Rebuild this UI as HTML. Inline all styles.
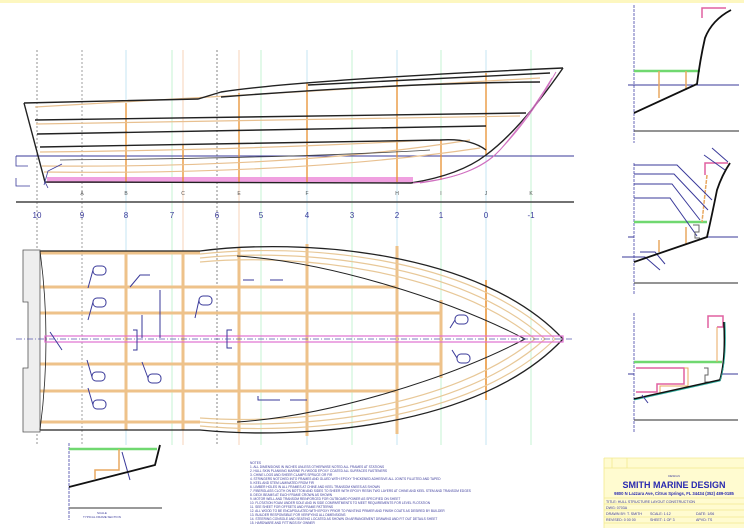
<!DOCTYPE html>
<html><head><meta charset="utf-8"><style>
html,body{margin:0;padding:0;background:#fff;}
svg{display:block;}
text{font-family:"Liberation Sans",sans-serif;}
</style></head><body>
<svg width="744" height="528" viewBox="0 0 744 528" xmlns="http://www.w3.org/2000/svg">
<rect x="0" y="0" width="744" height="528" fill="#fff"/>
<rect x="0" y="0" width="744" height="3" fill="#fdf7c0"/>
<g stroke-width="0.8" fill="none">
<line x1="37" y1="50" x2="37" y2="445" stroke="#777" stroke-dasharray="2,2"/>
<line x1="82" y1="50" x2="82" y2="445" stroke="#888" stroke-dasharray="2,2"/>
<line x1="126" y1="50" x2="126" y2="445" stroke="#b8e0f0"/>
<line x1="172" y1="50" x2="172" y2="445" stroke="#b8f0c8"/>
<line x1="183" y1="50" x2="183" y2="445" stroke="#f5c8a8"/>
<line x1="217" y1="50" x2="217" y2="445" stroke="#666" stroke-dasharray="2,2"/>
<line x1="239" y1="50" x2="239" y2="445" stroke="#f5c8a8"/>
<line x1="261" y1="50" x2="261" y2="445" stroke="#b8f0c8"/>
<line x1="307" y1="50" x2="307" y2="445" stroke="#b8e0f0"/>
<line x1="352" y1="50" x2="352" y2="445" stroke="#b8f0c8"/>
<line x1="397" y1="50" x2="397" y2="445" stroke="#b8e0f0"/>
<line x1="441" y1="50" x2="441" y2="445" stroke="#b8f0c8"/>
<line x1="486" y1="50" x2="486" y2="445" stroke="#b8e0f0"/>
<line x1="531" y1="50" x2="531" y2="445" stroke="#b8f0c8"/>
</g>
<line x1="16" y1="156" x2="574" y2="156" stroke="#3a3a9a" stroke-width="1"/>
<line x1="16" y1="202" x2="574" y2="202" stroke="#444" stroke-width="1.5"/>
<path d="M16 156 H28 M16 156 V166 H28 M16 178 V186 H30" stroke="#3a3a9a" fill="none" stroke-width="0.8"/>
<rect x="47" y="177" width="366" height="6" fill="#f0a0e0"/>
<g fill="none" stroke="#e89030" stroke-width="1.3">
<line x1="126" y1="103" x2="126" y2="182"/><line x1="183" y1="145" x2="183" y2="182"/>
<line x1="239" y1="93" x2="239" y2="182"/><line x1="307" y1="83" x2="307" y2="182"/>
<line x1="397" y1="78" x2="397" y2="182"/><line x1="441" y1="140" x2="441" y2="180"/>
<line x1="486" y1="73" x2="486" y2="155"/>
</g>
<g fill="none" stroke="#e8c090" stroke-width="1.2">
<path d="M35 107 L540 78"/><path d="M36 124 L520 116"/><path d="M40 152 Q250 150 430 140"/>
<path d="M42 166 Q300 168 470 140"/><path d="M44 172 Q300 175 480 148"/>
</g>
<g fill="none" stroke="#222" stroke-width="1.4">
<path d="M24 103 L198 99 L221 92 Q300 80 563 68"/>
<path d="M24 103 L45 182 L411 183 Q460 175 486 155 Q520 130 563 68"/>
<path d="M35 120 L526 113"/><path d="M37 134 L486 126"/>
<path d="M40 147 Q300 142 440 140 Q470 138 486 150"/>
<path d="M221 97 Q400 83 540 82"/><path d="M308 85 L550 73"/>
<path d="M60 160 Q300 158 430 150" stroke="#444" stroke-width="0.8"/>
</g>
<g fill="none" stroke="#d070c0" stroke-width="0.9">
<path d="M413 183 Q470 178 495 155 Q530 120 556 72"/>
<path d="M420 183 Q475 176 500 150 Q530 115 552 78"/>
</g>
<path d="M45 182 L48 188 M44 185 L48 171 L62 164" stroke="#3a3a9a" fill="none" stroke-width="0.8"/>
<g font-size="5" fill="#555" text-anchor="middle">
<text x="82" y="195">A</text><text x="126" y="195">B</text><text x="183" y="195">C</text><text x="239" y="195">E</text>
<text x="307" y="195">F</text><text x="397" y="195">H</text><text x="441" y="195">I</text><text x="486" y="195">J</text><text x="531" y="195">K</text>
</g>
<g font-size="8" fill="#3a3a9a" text-anchor="middle">
<text x="37" y="218">10</text><text x="82" y="218">9</text><text x="126" y="218">8</text><text x="172" y="218">7</text>
<text x="217" y="218">6</text><text x="261" y="218">5</text><text x="307" y="218">4</text><text x="352" y="218">3</text>
<text x="397" y="218">2</text><text x="441" y="218">1</text><text x="486" y="218">0</text><text x="531" y="218">-1</text>
</g>
<g fill="none" stroke="#eec28a" stroke-width="3">
<line x1="40" y1="253" x2="200" y2="253"/><line x1="40" y1="287" x2="397" y2="287"/>
<line x1="40" y1="313" x2="441" y2="313"/><line x1="40" y1="364" x2="441" y2="364"/>
<line x1="40" y1="391" x2="397" y2="391"/><line x1="40" y1="422" x2="200" y2="422"/>
<line x1="126" y1="251" x2="126" y2="430"/><line x1="183" y1="251" x2="183" y2="430"/>
<line x1="239" y1="248" x2="239" y2="432"/><line x1="307" y1="244" x2="307" y2="436"/>
<line x1="397" y1="246" x2="397" y2="434"/><line x1="441" y1="300" x2="441" y2="378"/>
<line x1="486" y1="280" x2="486" y2="400" stroke="#e89030" stroke-width="1.5"/>
</g>
<g fill="none" stroke="#e8c898" stroke-width="1.2">
<path d="M200 254 C300 243 470 255 555 339 C470 423 300 435 200 426"/>
<path d="M200 258 C300 248 460 262 545 339 C460 416 300 430 200 422"/>
<path d="M200 262 C300 253 450 270 535 339 C450 408 300 425 200 418"/>
</g>
<g fill="none" stroke="#222" stroke-width="1.3">
<path d="M40 251 L200 251 C300 238 480 250 563 339 C480 428 300 440 200 430 L40 430"/>
<path d="M237 256 C330 262 450 300 525 339 C450 378 330 416 237 422" stroke-width="1"/>
<path d="M23 250 H40 V432 H23 V368 H28 V302 H23 Z" stroke="#555" fill="#eee" stroke-width="0.8"/>
<path d="M40 251 Q52 339 40 430" stroke-width="0.8"/>
</g>
<line x1="16" y1="339" x2="574" y2="339" stroke="#5a5ab0" stroke-width="0.8" stroke-dasharray="6,2,1,2"/>
<rect x="45" y="336" width="518" height="6" fill="none" stroke="#e070d0" stroke-width="1.2"/>
<g fill="none" stroke="#3a3a9a" stroke-width="1">
<rect x="93" y="266" width="13" height="9" rx="4"/><path d="M93 270 L88 288"/>
<rect x="93" y="298" width="13" height="9" rx="4"/><path d="M93 302 L88 320"/>
<rect x="199" y="296" width="13" height="9" rx="4"/><path d="M199 300 L195 318"/>
<rect x="92" y="372" width="13" height="9" rx="4"/><path d="M92 377 L87 360"/>
<rect x="148" y="374" width="13" height="9" rx="4"/><path d="M148 378 L142 362"/>
<rect x="93" y="400" width="13" height="9" rx="4"/><path d="M93 405 L88 388"/>
<rect x="455" y="315" width="13" height="9" rx="4"/><path d="M455 320 L450 328"/>
<rect x="457" y="354" width="13" height="9" rx="4"/><path d="M457 358 L452 350"/>
<path d="M130 287 L140 275 H150"/><path d="M160 290 V338 M142 315 V338"/>
<path d="M133 330 H137 V350 H133"/><path d="M232 330 H227 V348 H232"/>
<path d="M243 280 H254 M270 280 H283"/><path d="M258 396 V400 H280 M290 400 H307"/>
<path d="M50 332 L62 350"/>
</g>
<g fill="none" stroke-width="1">
<line x1="634" y1="5" x2="634" y2="143" stroke="#6a6ab8" stroke-dasharray="3,1"/>
<line x1="628" y1="85" x2="739" y2="85" stroke="#3a3a9a"/>
<line x1="634" y1="131" x2="739" y2="131" stroke="#555" stroke-width="1.3"/>
<line x1="634" y1="71" x2="700" y2="71" stroke="#70d870" stroke-width="2.5"/>
<line x1="659" y1="71" x2="659" y2="98" stroke="#e8a860" stroke-width="1.5"/>
<line x1="686" y1="71" x2="686" y2="90" stroke="#e8a860" stroke-width="1.5"/>
<path d="M702 18 V8 H726" stroke="#e060a0" stroke-width="1.5"/>
<path d="M634 113 L697 84 Q700 60 705 38 Q712 20 731 10" stroke="#111" stroke-width="1.8"/>
<line x1="634" y1="163" x2="634" y2="295" stroke="#6a6ab8" stroke-dasharray="3,1"/>
<line x1="707" y1="237" x2="738" y2="237" stroke="#3a3a9a"/>
<line x1="628" y1="237" x2="634" y2="237" stroke="#3a3a9a"/>
<line x1="634" y1="283" x2="738" y2="283" stroke="#555" stroke-width="1.3"/>
<line x1="634" y1="222" x2="707" y2="222" stroke="#70d870" stroke-width="2.5"/>
<path d="M705 175 V163 H728" stroke="#e060a0" stroke-width="1.5"/>
<line x1="707" y1="175" x2="702" y2="222" stroke="#e8a860" stroke-width="1.5" stroke-dasharray="4,1"/>
<line x1="686" y1="227" x2="686" y2="244" stroke="#e8a860" stroke-width="1.5"/>
<line x1="659" y1="240" x2="659" y2="252" stroke="#e8a860" stroke-width="1.5"/>
<g stroke="#3a3a9a" stroke-width="1">
<path d="M634 165 H677 L712 200"/><path d="M634 174 H674 L708 210"/>
<path d="M634 184 H672 L700 220"/><path d="M634 198 H670 L697 236"/>
<path d="M622 257 H645 L660 270"/><path d="M640 252 H655 L665 264"/>
<path d="M704 155 L725 170"/><path d="M712 148 L728 162"/>
</g>
<path d="M693 225 H699 V232 H695 V238 H700" stroke="#666"/>
<path d="M634 262 L707 237 Q712 215 717 190 Q722 175 730 163" stroke="#111" stroke-width="1.8"/>
<line x1="634" y1="313" x2="634" y2="433" stroke="#6a6ab8" stroke-dasharray="3,1"/>
<line x1="722" y1="374" x2="738" y2="374" stroke="#3a3a9a"/>
<line x1="628" y1="374" x2="634" y2="374" stroke="#3a3a9a"/>
<line x1="634" y1="420" x2="738" y2="420" stroke="#555" stroke-width="1.3"/>
<line x1="634" y1="362" x2="722" y2="362" stroke="#70d870" stroke-width="2.5"/>
<path d="M708 328 V316 H723 V327 H717" stroke="#e060a0" stroke-width="1.5"/>
<path d="M717 327 V362" stroke="#e8a860" stroke-width="1"/>
<path d="M636 368 H684 V384 H657 V392 H636" stroke="#e060a0" stroke-width="1.5"/>
<path d="M684 368 H688 V386 H660 V394" stroke="#e8a860" stroke-width="1"/>
<path d="M704 368 H708 V375 H705 V382 H709" stroke="#666"/>
<path d="M634 399 L720 380 Q726 360 724 322" stroke="#111" stroke-width="1.8"/>
<path d="M634 400 L720 381 Q727 360 725 322" stroke="#30b0a0" stroke-width="0.8"/>
<path d="M642 395 L648 403" stroke="#3a3a9a"/>
</g>
<g fill="none">
<line x1="69" y1="443" x2="69" y2="520" stroke="#6a6ab8" stroke-dasharray="3,1"/>
<line x1="69" y1="449" x2="157" y2="449" stroke="#70d870" stroke-width="2.5"/>
<line x1="69" y1="508" x2="162" y2="508" stroke="#999" stroke-width="2"/>
<path d="M119 449 V470 H95 V479" stroke="#e8a860" stroke-width="1.5"/>
<path d="M122 452 L130 480" stroke="#3a3a9a"/>
<path d="M69 487 L155 465 L160 445" stroke="#111" stroke-width="1.8"/>
</g>
<text x="97" y="514" font-size="3" fill="#3a3a9a">SCALE</text>
<text x="83" y="518" font-size="3" fill="#3a3a9a">TYPICAL FRAME SECTION</text>
<g font-size="3.2" fill="#3a3a9a">
<text x="250" y="464">NOTES</text>
<text x="250" y="468">1. ALL DIMENSIONS IN INCHES UNLESS OTHERWISE NOTED ALL FRAMES AT STATIONS</text>
<text x="250" y="472">2. HULL SKIN PLANKING MARINE PLYWOOD EPOXY COATED ALL SURFACES FASTENERS</text>
<text x="250" y="476">3. CHINE LOGS AND SHEER CLAMPS SPRUCE OR FIR</text>
<text x="250" y="480">4. STRINGERS NOTCHED INTO FRAMES AND GLUED WITH EPOXY THICKENED ADHESIVE ALL JOINTS FILLETED AND TAPED</text>
<text x="250" y="484">5. KEEL AND STEM LAMINATED FROM FIR</text>
<text x="250" y="488">6. LIMBER HOLES IN ALL FRAMES AT CHINE AND KEEL TRANSOM KNEES AS SHOWN</text>
<text x="250" y="492">7. FIBERGLASS CLOTH ON BOTTOM AND SIDES TO SHEER WITH EPOXY RESIN TWO LAYERS AT CHINE AND KEEL STEM AND TRANSOM EDGES</text>
<text x="250" y="496">8. DECK BEAMS AT EACH FRAME CROWN AS SHOWN</text>
<text x="250" y="500">9. MOTOR WELL AND TRANSOM REINFORCED FOR OUTBOARD POWER AS SPECIFIED ON SHEET</text>
<text x="250" y="504">10. FLOTATION FOAM UNDER SOLE AND IN SIDE COMPARTMENTS TO MEET REQUIREMENTS FOR LEVEL FLOTATION</text>
<text x="250" y="508">11. SEE SHEET FOR OFFSETS AND FRAME PATTERNS</text>
<text x="250" y="512">12. ALL WOOD TO BE ENCAPSULATED WITH EPOXY PRIOR TO PAINTING PRIMER AND FINISH COATS AS DESIRED BY BUILDER</text>
<text x="250" y="516">13. BUILDER RESPONSIBLE FOR VERIFYING ALL DIMENSIONS</text>
<text x="250" y="520">14. STEERING CONSOLE AND SEATING LOCATED AS SHOWN ON ARRANGEMENT DRAWING AND FIT OUT DETAILS SHEET</text>
<text x="250" y="524">15. HARDWARE AND FITTINGS BY OWNER</text>
</g>
<rect x="604" y="458" width="140" height="70" fill="#fffbd0"/>
<g stroke="#f2ea90" stroke-width="0.8">
<line x1="604" y1="458" x2="744" y2="458"/><line x1="604" y1="468" x2="744" y2="468"/>
<line x1="604" y1="498" x2="744" y2="498"/><line x1="604" y1="504" x2="744" y2="504"/>
<line x1="604" y1="510" x2="744" y2="510"/><line x1="604" y1="517" x2="744" y2="517"/>
<line x1="604" y1="523" x2="744" y2="523"/><line x1="604" y1="458" x2="604" y2="528"/>
<line x1="612" y1="458" x2="612" y2="468"/><line x1="627" y1="458" x2="627" y2="468"/>
</g>
<text x="674" y="477" font-size="3" fill="#3a3a9a" text-anchor="middle">DESIGN</text>
<text x="674" y="488" font-size="9" font-weight="bold" fill="#2a2ab0" text-anchor="middle">SMITH MARINE DESIGN</text>
<text x="674" y="495" font-size="4.2" font-weight="bold" fill="#2a2ab0" text-anchor="middle">9800 N Lazzara Ave, Citrus Springs, FL 34434 (352) 489-0185</text>
<g font-size="3.6" fill="#3a3a9a">
<text x="606" y="503">TITLE: HULL STRUCTURE LAYOUT CONSTRUCTION</text>
<text x="606" y="509">DWG: 0703A</text>
<text x="606" y="515">DRAWN BY: T. SMITH</text><text x="650" y="515">SCALE: 1:12</text><text x="696" y="515">DATE: 1/06</text>
<text x="606" y="521">REVISED: 0 00 00</text><text x="650" y="521">SHEET: 1 OF 3</text><text x="696" y="521">APVD: TS</text>
</g>
</svg>
</body></html>
